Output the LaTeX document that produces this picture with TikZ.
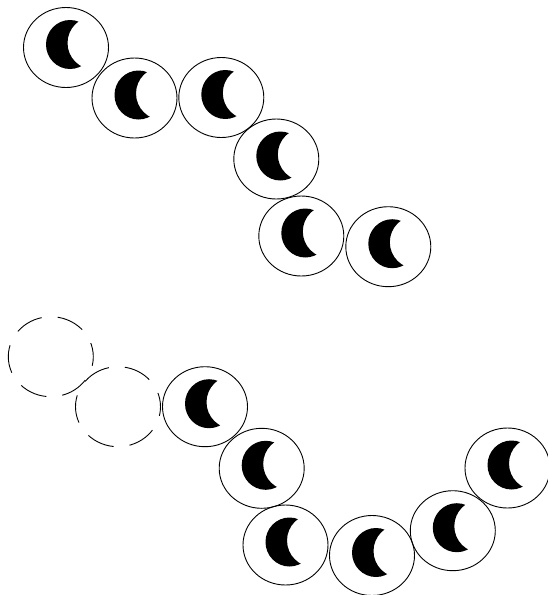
\documentclass[tikz,border=0pt]{standalone}
\begin{document}
\begin{tikzpicture}[x=1pt,y=-1pt,
  cellline/.style={line width=0.9pt,black},
  ghostline/.style={line width=0.9pt,black,dash pattern=on 28pt off 16pt,dash phase=14pt},
  cell/.pic={
    \draw[cellline] (0,0) ellipse[x radius=42.5pt,y radius=40pt];
    \begin{scope}[even odd rule]
      \clip (-40,-40) rectangle (40,40) (28,-4.5) circle[radius=26.5pt];
      \fill[black] (4,-3) ellipse[x radius=24pt,y radius=24.5pt];
    \end{scope}
  },
  ghost/.pic={
    \draw[ghostline] (0,0) ellipse[x radius=42.5pt,y radius=40pt];
  }]
\useasboundingbox (0,0) rectangle (547,595);
% top chain
\pic (t1) at (66,47.5) {cell};
\pic (t2) at (134.5,98) {cell};
\pic (t3) at (221.3,97.5) {cell};
\pic (t4) at (276.3,159) {cell};
\pic (t5) at (301.3,236) {cell};
\pic (t6) at (388.3,246.7) {cell};
% bottom chain
\pic (b1) at (50.8,356.7) {ghost};
\pic (b2) at (118,406.7) {ghost};
\pic (b3) at (205,406.7) {cell};
\pic (b4) at (261.7,468.3) {cell};
\pic (b5) at (285.5,545) {cell};
\pic (b6) at (372,555.5) {cell};
\pic (b7) at (452.8,530.7) {cell};
\pic (b8) at (507.5,468) {cell};
\end{tikzpicture}
\end{document}
